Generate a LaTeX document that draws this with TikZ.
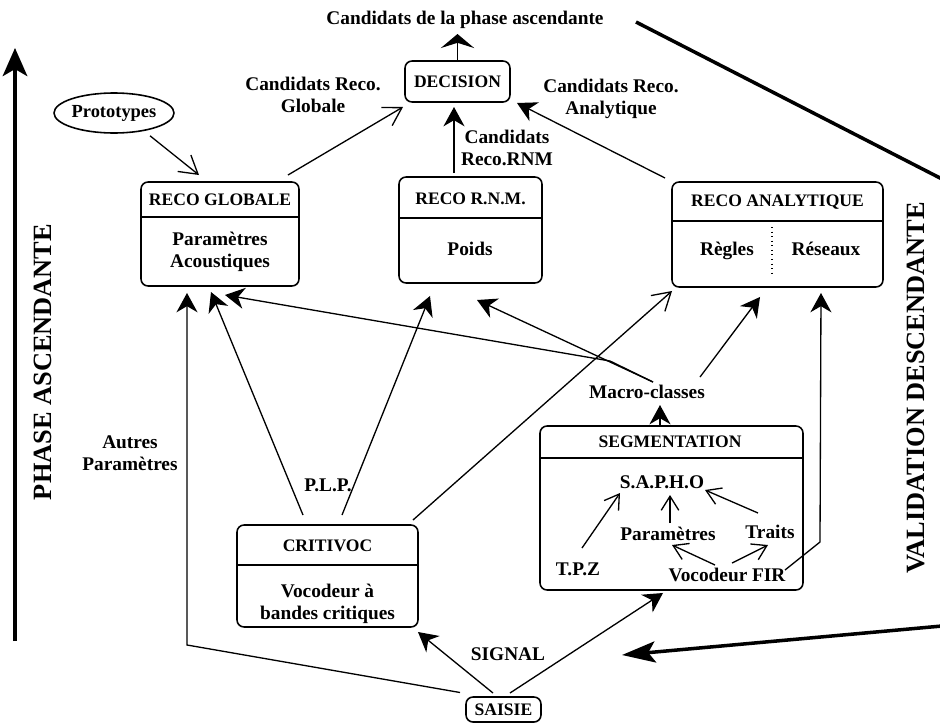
\documentclass[tikz,border=0pt]{standalone}
\usepackage{fontspec}
\setmainfont{Liberation Serif}
\usetikzlibrary{arrows.meta,calc,shapes.geometric}
\begin{document}
\begin{tikzpicture}[x=0.02cm,y=-0.02cm,
  box/.style={draw, rounded corners=4pt, line width=0.9pt, inner sep=0pt, outer sep=0pt},
  txt/.style={font=\bfseries\fontsize{11}{12.5}\selectfont, align=center, inner sep=0pt},
  hdr/.style={font=\bfseries\fontsize{10}{12}\selectfont, inner sep=0pt},
  con/.style={line width=0.75pt},
  sarr/.style={con, -{Stealth[length=11pt,width=12pt,inset=3.5pt]}},
  warr/.style={con, -{Stealth[length=8pt,width=19pt,inset=3pt]}},
  oarr/.style={con, -{Straight Barb[length=10pt,width=12pt]}},
  iarr/.style={con, -{Straight Barb[length=8pt,width=10pt]}},
  thick arrow/.style={line width=2pt},
  vlabel/.style={rotate=90, font=\bfseries\fontsize{15}{15}\selectfont, inner sep=0pt}
]
\useasboundingbox (0,0) rectangle (940,724);

% title and decision
\node[txt] (title) at (465,20) {Candidats de la phase ascendante};
\node[box, hdr, minimum width=2.1cm, minimum height=0.82cm] (dec) at (457.5,81.5) {DECISION};

% prototypes
\node[draw, ellipse, line width=0.9pt, inner sep=0pt, minimum width=2.4cm, minimum height=0.8cm,
      font=\bfseries\fontsize{10.5}{12}\selectfont] (proto) at (114,113) {Prototypes};

% RECO GLOBALE
\node[box, minimum width=3.16cm, minimum height=2.08cm] (rg) at (220,234) {};
\draw[line width=0.9pt] (rg.west |- 0,217) -- (rg.east |- 0,217);
\node[hdr] (rgh) at (220,200) {RECO GLOBALE};
\node[txt] (rgb) at (220,252) {Paramètres\\Acoustiques};

% RECO RNM
\node[box, minimum width=2.86cm, minimum height=2.12cm] (rn) at (470.5,230) {};
\draw[line width=0.9pt] (rn.west |- 0,218) -- (rn.east |- 0,218);
\node[hdr] (rnh) at (470.5,199) {RECO R.N.M.};
\node[txt, anchor=base] (rnb) at (470,255) {Poids};

% RECO ANALYTIQUE
\node[box, minimum width=4.22cm, minimum height=2.1cm] (ra) at (777.5,234.5) {};
\draw[line width=0.9pt] (ra.west |- 0,221) -- (ra.east |- 0,221);
\node[hdr] (rah) at (777.5,202) {RECO ANALYTIQUE};
\node[txt, anchor=base] (rar) at (727,255) {Règles};
\node[txt, anchor=base] (ras) at (826,255) {Réseaux};
\draw[dotted, line width=0.6pt] ($(ra.north)+(-5.5,45)$) -- ($(ra.north)+(-5.5,94)$);

% CRITIVOC
\node[box, minimum width=3.62cm, minimum height=2.04cm] (cv) at (327.5,576) {};
\draw[line width=0.9pt] (cv.west |- 0,565) -- (cv.east |- 0,565);
\node[hdr] (cvh) at (327.5,546) {CRITIVOC};
\node[txt] (cvb) at (327.5,604) {Vocodeur à\\bandes critiques};

% SEGMENTATION
\node[box, minimum width=5.26cm, minimum height=3.28cm] (sg) at (671.5,508) {};
\draw[line width=0.9pt] (sg.west |- 0,458) -- (sg.east |- 0,458);
\node[hdr] (sgh) at (670,442) {SEGMENTATION};
\node[txt] (sapho) at (662,482) {S.A.P.H.O};
\node[txt] (tpz) at (578,569) {T.P.Z};
\node[txt] (param) at (668,534) {Paramètres};
\node[txt] (traits) at (770,532) {Traits};
\node[txt] (voc) at (727,575) {Vocodeur FIR};

% SAISIE
\node[box, hdr, minimum width=1.5cm, minimum height=0.5cm] (sa) at (503.5,709.5) {SAISIE};

% labels
\node[txt] (lg) at (313,95) {Candidats Reco.\\Globale};
\node[txt] (lr) at (507,148) {Candidats\\Reco.RNM};
\node[txt] (la) at (611,99) {Candidats Reco.\\Analytique};
\node[txt] (lautres) at (130,453) {Autres\\Paramètres};
\node[txt] (lplp) at (328,485) {P.L.P.};
\node[txt] (lsig) at (508,654) {SIGNAL};
\node[txt] (mc) at (647,392) {Macro-classes};

% connectors to DECISION
\draw[warr] (dec.north) -- ($(dec.north)+(0,-27)$);
\draw[oarr] ($(rg.north east)+(-11,-7)$) -- ($(dec.south west)+(-2,5)$);
\draw[sarr] ($(rn.north)+(-16.5,-4)$) -- ($(dec.south)+(-3.5,5)$);
\draw[sarr] ($(ra.north west)+(-7,-4)$) -- ($(dec.south east)+(7,1)$);

% prototypes
\draw[oarr] ($(proto.south)+(36,2)$) -- ($(rg.north)+(-21,-7)$);

% saisie
\draw[sarr] ($(sa.west)+(-6,-17)$) -- ($(rg.south)+(-33,359)$) -- ($(rg.south)+(-33,7)$);
\draw[sarr] ($(sa.north)+(-10.5,-4)$) -- ($(cv.south east)+(0,5)$);
\draw[sarr] ($(sa.north)+(6.5,-4)$) -- ($(sg.south)+(-8.5,3)$);

% critivoc
\draw[sarr] ($(cv.north)+(-24.5,-10)$) -- ($(rg.south)+(-9,6)$);
\draw[sarr] ($(cv.north)+(14.5,-10)$) -- ($(rn.south)+(-40.5,13)$);
\draw[oarr] ($(cv.north east)+(-5,-5)$) -- ($(ra.south west)+(0,4)$);

% macro-classes
\draw[sarr] ($(mc.center)+(6,-10)$) -- ($(mc.center)+(-37,-31)$) -- ($(rg.south)+(5,9)$);
\draw[sarr] ($(mc.center)+(6,-10)$) -- ($(rn.south)+(6.5,17)$);
\draw[sarr] ($(mc.center)+(53,-15)$) -- ($(ra.south)+(-17.5,10)$);
\draw[sarr] ($(sg.north)+(-11.5,0)$) -- ($(sg.north)+(-11.5,-21)$);

% segmentation internals
\draw[iarr] ($(tpz.center)+(4,-21)$) -- ($(sapho.center)+(-42,11)$);
\draw[iarr] ($(param.center)+(2,-11)$) -- ($(sapho.center)+(8,13)$);
\draw[iarr] ($(traits.center)+(-12,-19)$) -- ($(sapho.center)+(43,8)$);
\draw[iarr] ($(voc.center)+(-12,-10)$) -- ($(param.center)+(4,11)$);
\draw[iarr] ($(voc.center)+(5,-12)$) -- ($(traits.center)+(-2,13)$);
\draw[sarr] ($(voc.center)+(58,-5)$) -- ($(ra.south)+(42.5,255)$) -- ($(ra.south)+(43.5,6)$);

% phase arrows
\coordinate (p1) at (15,641);
\coordinate (p2) at (15,48);
\draw[thick arrow, -{Stealth[length=16pt,width=14pt,inset=4pt]}] (p1) -- (p2);
\node[vlabel] (lphase) at (43,362) {PHASE ASCENDANTE};

\coordinate (v1) at (636,22);
\coordinate (v2) at (942,179);
\coordinate (v3) at (942,626);
\coordinate (v4) at (622,655);
\draw[thick arrow] (v1) -- (v2);
\draw[thick arrow, -{Stealth[length=19pt,width=12pt,inset=4pt]}] (v3) -- (v4);
\node[vlabel] (lvalid) at (916,388) {VALIDATION DESCENDANTE};
\end{tikzpicture}
\end{document}
